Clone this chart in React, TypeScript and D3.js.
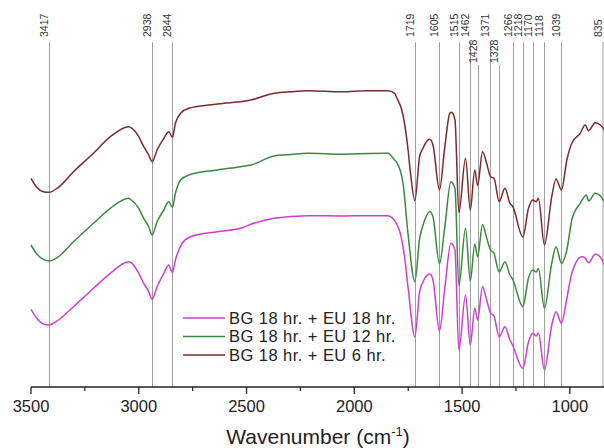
import React from "react";
import * as d3 from "d3";

// FTIR spectra: [wavenumber (cm-1), transmittance (a.u.)]
const seriesEU6: [number, number][] = [
  [3500, 208.7], [3473, 199.7], [3443, 195.3], [3417, 194.7], [3373, 199.7], [3303, 215.3],
  [3210, 233.7], [3132, 250.3], [3047, 260.3], [3031, 258.7], [3000, 250.3], [2977, 240.3],
  [2954, 232], [2938, 225.3], [2915, 237], [2884, 248.7], [2861, 255.3], [2844, 249.7],
  [2830, 263.7], [2806, 273.7], [2768, 278.7], [2635, 283], [2480, 287], [2372, 293.7],
  [2294, 295.3], [2217, 296.3], [2061, 295.3], [1937, 296.3], [1844, 296.3], [1813, 293.7],
  [1805, 290], [1774, 272], [1751, 238], [1740, 215], [1719, 186.5], [1697, 230.3],
  [1681, 239], [1650, 247.7], [1635, 242], [1605, 197], [1580, 240.3], [1557, 273.7],
  [1549, 274.7], [1533, 267], [1515, 174.5], [1484, 228.7], [1462, 177], [1441, 217],
  [1428, 201.5], [1405, 235.3], [1386, 223.7], [1368, 210.3], [1352, 208.7], [1328, 185.3],
  [1301, 198.7], [1278, 183.7], [1266, 181], [1218, 150], [1192, 178.7], [1172, 187],
  [1156, 185.3], [1146, 188.7], [1118, 142], [1084, 190.3], [1064, 208], [1039, 197],
  [1014, 227], [991, 243.7], [952, 253.7], [929, 262], [913, 256.3], [882, 264.3],
  [859, 262], [833, 255.3],
];

const seriesEU12: [number, number][] = [
  [3500, 142], [3473, 133], [3443, 127.7], [3417, 126], [3373, 130.3], [3303, 145.3],
  [3210, 163.7], [3132, 178.7], [3047, 188.7], [3031, 186.3], [3000, 178.7], [2977, 168.7],
  [2954, 160.3], [2938, 152], [2915, 165.3], [2884, 177], [2861, 185.3], [2844, 179.7],
  [2830, 193.7], [2806, 207], [2768, 212], [2635, 217], [2528, 220.3], [2480, 222],
  [2372, 231], [2294, 232.5], [2217, 233.7], [2061, 232.8], [1937, 233.5], [1844, 233.7],
  [1813, 227], [1805, 225.3], [1774, 203.7], [1751, 153.7], [1719, 105.3], [1697, 148.7],
  [1681, 162], [1650, 175.5], [1635, 170.3], [1605, 123], [1580, 160.3], [1552, 205.3],
  [1533, 198.7], [1515, 101.5], [1484, 158.7], [1462, 106], [1441, 143], [1428, 130.3],
  [1405, 162.5], [1386, 149], [1368, 137], [1352, 133.7], [1328, 115], [1301, 125.3],
  [1278, 112], [1266, 108], [1218, 80.3], [1192, 109], [1172, 117], [1156, 115],
  [1146, 118.5], [1118, 78.7], [1084, 124], [1064, 140.3], [1039, 123.7], [1014, 137],
  [991, 167], [952, 183.7], [923, 192], [913, 186], [882, 193.7], [859, 191.3], [833, 183],
];

const seriesEU18: [number, number][] = [
  [3500, 77.7], [3473, 68.7], [3443, 63], [3417, 62], [3373, 67], [3303, 80.3],
  [3210, 98.7], [3132, 113.7], [3047, 125.3], [3031, 123.7], [3000, 113.7], [2977, 103.7],
  [2954, 95.3], [2938, 87.7], [2915, 100.3], [2884, 113.7], [2861, 122], [2844, 114.3],
  [2830, 127], [2799, 143.7], [2760, 150.3], [2635, 155.3], [2528, 158.7], [2480, 162.7],
  [2372, 168.7], [2217, 171.3], [2061, 171], [1937, 171.3], [1844, 171.3], [1797, 160.3],
  [1774, 140.3], [1767, 130.3], [1751, 100.3], [1719, 50.3], [1697, 95.3], [1681, 105.3],
  [1650, 113], [1635, 107], [1605, 56], [1580, 99], [1552, 143.7], [1533, 137],
  [1515, 37], [1484, 92], [1462, 42], [1441, 78.7], [1428, 67], [1405, 100.3],
  [1386, 87], [1368, 74], [1352, 71], [1328, 50.3], [1301, 60.3], [1278, 47],
  [1266, 42], [1218, 18.7], [1192, 45], [1172, 53.7], [1156, 51], [1146, 54],
  [1118, 17], [1084, 62], [1064, 75.3], [1039, 63.7], [1014, 88.7], [991, 113.7],
  [944, 130.3], [929, 129], [913, 124.3], [882, 133], [859, 130], [833, 118.7],
];

const seriesNames = ["BG 18 hr. + EU 18 hr.", "BG 18 hr. + EU 12 hr.", "BG 18 hr. + EU 6 hr."];
const seriesColors = ["#cc3fcf", "#3a8a3e", "#7a2b2b"];

const peakLabels = [3417, 2938, 2844, 1719, 1605, 1515, 1462, 1428, 1371, 1328, 1266, 1218, 1170, 1118, 1039, 835];
const loweredPeaks = [1428, 1328];

const majorTicks = [3500, 3000, 2500, 2000, 1500, 1000];
const minorTicks = [3250, 2750, 2250, 1750, 1250];

const W = 604;
const H = 448;
const axisY = 387;

export default function App() {
  const x = d3.scaleLinear().domain([3500, 830]).range([31, 606.5]);
  const y = d3.scaleLinear().domain([0, 387]).range([axisY, 0]);
  const line = d3
    .line<[number, number]>()
    .x((d) => x(d[0]))
    .y((d) => y(d[1]))
    .curve(d3.curveMonotoneX);

  const allSeries = [seriesEU18, seriesEU12, seriesEU6];
  const font = "'Liberation Sans', Arial, sans-serif";

  return (
    <svg
      width={W}
      height={H}
      viewBox={`0 0 ${W} ${H}`}
      style={{ position: "absolute", left: 0, top: 0, background: "#fff" }}
      fontFamily={font}
    >
      <rect x={0} y={0} width={W} height={H} fill="#fff" />
      {/* peak marker lines */}
      {peakLabels.map((p) => {
        const low = loweredPeaks.includes(p);
        const px = Math.min(Math.round(x(p)) + 0.5, W - 1);
        return (
          <g key={p}>
            <line x1={px} x2={px} y1={low ? 65 : 42} y2={axisY} stroke="#a0a0a0" strokeWidth={1} />
            <text
              transform={`translate(${px - 1.5},${low ? 63 : 37}) rotate(-90)`}
              fontSize={10.5}
              fill="#333"
            >
              {p}
            </text>
          </g>
        );
      })}
      {/* spectra */}
      {allSeries.map((s, i) => (
        <path key={i} d={line(s) || ""} fill="none" stroke={seriesColors[i]} strokeWidth={1.5} />
      ))}
      {/* x axis */}
      <line x1={x(3500)} x2={W} y1={axisY} y2={axisY} stroke="#222" strokeWidth={1.3} />
      {majorTicks.map((t) => (
        <g key={t}>
          <line x1={x(t)} x2={x(t)} y1={axisY} y2={axisY + 7} stroke="#222" strokeWidth={1.3} />
          <text x={x(t)} y={axisY + 25} textAnchor="middle" fontSize={16.5} fill="#222">
            {t}
          </text>
        </g>
      ))}
      {minorTicks.map((t) => (
        <line key={t} x1={x(t)} x2={x(t)} y1={axisY} y2={axisY + 4} stroke="#222" strokeWidth={1.2} />
      ))}
      <text x={318} y={444} textAnchor="middle" fontSize={21} fill="#222">
        Wavenumber (cm
        <tspan fontSize={13} dy={-8}>-1</tspan>
        <tspan dy={8}>)</tspan>
      </text>
      {/* legend */}
      {seriesNames.map((n, i) => (
        <g key={n} transform={`translate(0,${318 + i * 18.5})`}>
          <line x1={183} x2={225} y1={0} y2={0} stroke={seriesColors[i]} strokeWidth={1.5} />
          <text x={229} y={5.5} fontSize={16.5} fill="#222" letterSpacing={0.45}>
            {n}
          </text>
        </g>
      ))}
    </svg>
  );
}
